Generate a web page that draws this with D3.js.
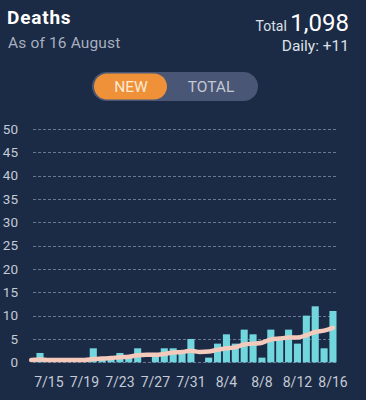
<!DOCTYPE html>
<html>
<head>
<meta charset="utf-8">
<script src="https://cdn.jsdelivr.net/npm/d3@7"></script>
<style>
  html, body { margin: 0; padding: 0; background: #1b2a45; }
  svg { display: block; font-family: Roboto, "Noto Sans", sans-serif; }
</style>
</head>
<body>
<svg id="chart" width="366" height="400"></svg>
<script>
// ---- data ----
const dates = ["7/13","7/14","7/15","7/16","7/17","7/18","7/19","7/20","7/21","7/22",
  "7/23","7/24","7/25","7/26","7/27","7/28","7/29","7/30","7/31","8/1",
  "8/2","8/3","8/4","8/5","8/6","8/7","8/8","8/9","8/10","8/11",
  "8/12","8/13","8/14","8/15","8/16"];
const newDeaths = [0,2,0,0,0,0,0,3,1,1,
  2,1,3,0,2,3,3,2,5,0,
  1,4,6,4,7,6,1,7,5,7,
  4,10,12,3,11];
const movingAvg = [0.5,0.6,0.5,0.5,0.5,0.5,0.5,0.7,0.8,0.9,
  1.1,1.2,1.5,1.6,1.6,1.8,2.1,2.2,2.5,2.2,
  2.3,2.7,3.0,3.2,3.8,4.0,4.2,4.9,5.1,5.3,
  5.3,5.8,6.5,6.8,7.4];
const yTicks = [0,5,10,15,20,25,30,35,40,45,50];
const xTickLabels = ["7/15","7/19","7/23","7/27","7/31","8/4","8/8","8/12","8/16"];
const title = "Deaths";
const subtitle = "As of 16 August";
const totalLabel = "Total";
const totalValue = "1,098";
const dailyLabel = "Daily: +11";
const toggleLabels = ["NEW", "TOTAL"];

// ---- drawing ----
const svg = d3.select("#chart");

svg.append("text").attr("x", 7).attr("y", 24)
  .attr("fill", "#ffffff").attr("font-size", 19).attr("font-weight", "bold")
  .attr("letter-spacing", 0.8).text(title);
svg.append("text").attr("x", 8).attr("y", 48)
  .attr("fill", "#a7afbf").attr("font-size", 15.5).attr("letter-spacing", 0.15).text(subtitle);

const tt = svg.append("text").attr("x", 349).attr("y", 30.7).attr("text-anchor", "end").attr("fill", "#ffffff");
tt.append("tspan").attr("font-size", 14).attr("fill", "#dde1e8").text(totalLabel + " ");
tt.append("tspan").attr("font-size", 24).text(totalValue);
svg.append("text").attr("x", 349).attr("y", 50.7).attr("text-anchor", "end")
  .attr("fill", "#dde1e8").attr("font-size", 15.5).text(dailyLabel);

// toggle
svg.append("rect").attr("x", 92).attr("y", 72).attr("width", 166).attr("height", 29)
  .attr("rx", 14.5).attr("fill", "#4a5675");
svg.append("rect").attr("x", 94).attr("y", 73.5).attr("width", 73).attr("height", 26)
  .attr("rx", 13).attr("fill", "#ee9138");
svg.append("text").attr("x", 131).attr("y", 92.3).attr("text-anchor", "middle")
  .attr("fill", "#fbe9d6").attr("font-size", 15.5).text(toggleLabels[0]);
svg.append("text").attr("x", 211).attr("y", 92.3).attr("text-anchor", "middle")
  .attr("fill", "#c3c8d3").attr("font-size", 15.5).text(toggleLabels[1]);

// scales
const x = d3.scaleBand().domain(dates).range([26.7, 337.4]).paddingInner(0.2).paddingOuter(0.1);
const y = d3.scaleLinear().domain([0, 50]).range([362.3, 129]);

// grid
svg.append("g").selectAll("line").data(yTicks).join("line")
  .attr("x1", 33).attr("x2", 338)
  .attr("y1", d => Math.round(y(d)) + 0.5).attr("y2", d => Math.round(y(d)) + 0.5)
  .attr("stroke", "#6b7792").attr("stroke-width", 1).attr("stroke-dasharray", "3,2");

// y labels
svg.append("g").selectAll("text").data(yTicks).join("text")
  .attr("x", 18).attr("y", d => y(d)).attr("dy", "0.35em").attr("text-anchor", "end")
  .attr("fill", "#c4cad6").attr("font-size", 13.5).text(d => d);

// bars
svg.append("g").selectAll("rect").data(dates).join("rect")
  .attr("x", d => x(d)).attr("width", x.bandwidth())
  .attr("y", (d, i) => y(newDeaths[i])).attr("height", (d, i) => y(0) - y(newDeaths[i]))
  .attr("fill", "#72d6de");

// moving average line
const line = d3.line()
  .x((d, i) => x(dates[i]) + x.bandwidth() / 2)
  .y(d => y(d))
  .curve(d3.curveMonotoneX);
svg.append("path").datum(movingAvg).attr("d", line)
  .attr("fill", "none").attr("stroke", "#f3cabc").attr("stroke-width", 4.5)
  .attr("stroke-linecap", "round").attr("stroke-linejoin", "round");

// x labels
svg.append("g").selectAll("text").data(xTickLabels).join("text")
  .attr("x", d => x(d) + x.bandwidth() / 2).attr("y", 386.7).attr("text-anchor", "middle")
  .attr("fill", "#c4cad6").attr("font-size", 14).text(d => d);
</script>
</body>
</html>
